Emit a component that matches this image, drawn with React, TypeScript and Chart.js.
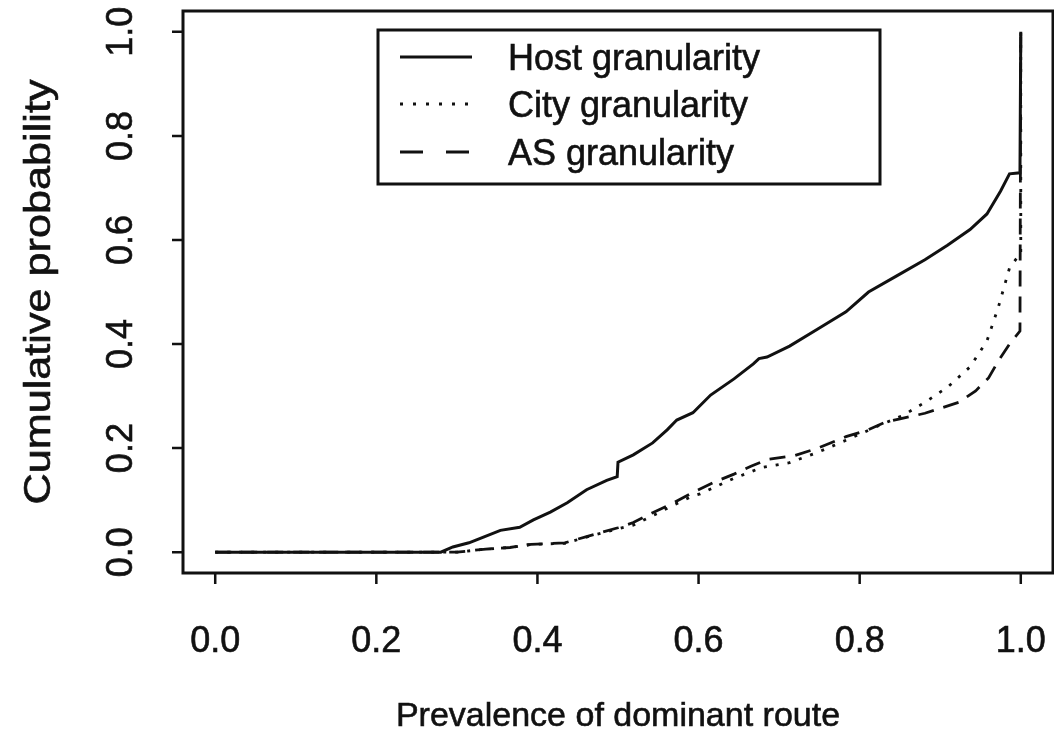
import React, { useEffect, useRef } from "react";
import { Chart, registerables } from "chart.js";

Chart.register(...registerables);

// ---- data ----
const xTicks = [0, 0.2, 0.4, 0.6, 0.8, 1.0];
const yTicks = [0, 0.2, 0.4, 0.6, 0.8, 1.0];
const xTickLabels = ["0.0", "0.2", "0.4", "0.6", "0.8", "1.0"];
const yTickLabels = ["0.0", "0.2", "0.4", "0.6", "0.8", "1.0"];
const xTitle = "Prevalence of dominant route";
const yTitle = "Cumulative probability";
const seriesNames = ["Host granularity", "City granularity", "AS granularity"];

const hostX = [0, 0.28, 0.295, 0.315, 0.333, 0.354, 0.378, 0.395, 0.416, 0.437, 0.461, 0.486, 0.499, 0.5, 0.519, 0.543, 0.561, 0.573, 0.593, 0.615, 0.644, 0.668, 0.675, 0.685, 0.713, 0.748, 0.783, 0.811, 0.846, 0.881, 0.909, 0.937, 0.958, 0.975, 0.986, 0.999, 1.0];
const hostY = [0, 0, 0.01, 0.018, 0.029, 0.042, 0.048, 0.062, 0.077, 0.095, 0.12, 0.138, 0.145, 0.173, 0.187, 0.21, 0.235, 0.254, 0.268, 0.302, 0.333, 0.362, 0.372, 0.375, 0.396, 0.429, 0.462, 0.5, 0.531, 0.562, 0.59, 0.62, 0.65, 0.694, 0.727, 0.729, 1.0];

const cityX = [0, 0.3, 0.336, 0.366, 0.392, 0.434, 0.461, 0.5, 0.519, 0.543, 0.568, 0.593, 0.602, 0.644, 0.679, 0.713, 0.748, 0.783, 0.825, 0.854, 0.881, 0.909, 0.937, 0.958, 0.972, 0.986, 0.995, 1.0, 1.0];
const cityY = [0, 0, 0.006, 0.009, 0.015, 0.017, 0.029, 0.045, 0.052, 0.07, 0.09, 0.108, 0.112, 0.142, 0.163, 0.172, 0.192, 0.215, 0.244, 0.263, 0.288, 0.317, 0.356, 0.406, 0.47, 0.546, 0.565, 0.57, 1.0];

const asX = [0, 0.3, 0.336, 0.366, 0.392, 0.434, 0.461, 0.5, 0.519, 0.543, 0.568, 0.593, 0.62, 0.644, 0.665, 0.685, 0.72, 0.748, 0.783, 0.809, 0.832, 0.85, 0.881, 0.903, 0.923, 0.944, 0.96, 0.972, 0.986, 0.999, 1.0];
const asY = [0, 0, 0.006, 0.009, 0.015, 0.018, 0.03, 0.047, 0.057, 0.076, 0.094, 0.115, 0.135, 0.15, 0.165, 0.178, 0.186, 0.2, 0.222, 0.234, 0.25, 0.256, 0.267, 0.278, 0.288, 0.31, 0.335, 0.367, 0.4, 0.425, 1.0];

const toPts = (xs: number[], ys: number[]) => xs.map((x, i) => ({ x, y: ys[i] }));

const INK = "#111";
const FAMILY = "'Liberation Sans', Arial, Helvetica, sans-serif";
const dashes = [[], [3, 9], [16, 10]];
const legendDashes = [[], [3, 10], [23, 23]];

function inkText(ctx: CanvasRenderingContext2D, s: string, x: number, y: number) {
  ctx.fillText(s, x, y);
  ctx.save();
  ctx.lineWidth = 0.6;
  ctx.setLineDash([]);
  ctx.strokeText(s, x, y);
  ctx.restore();
}

const framePlugin = {
  id: "rframe",
  afterDraw(chart: any) {
    const { ctx, chartArea, scales } = chart;
    const { left, right, top, bottom } = chartArea;
    const xs = scales.x;
    const ys = scales.y;
    ctx.save();
    ctx.strokeStyle = INK;
    ctx.fillStyle = INK;
    ctx.lineWidth = 3;
    ctx.setLineDash([]);
    ctx.strokeRect(left, top, right - left, bottom - top);

    // ticks
    ctx.lineWidth = 2.5;
    ctx.beginPath();
    xTicks.forEach((v) => {
      const px = xs.getPixelForValue(v);
      ctx.moveTo(px, bottom);
      ctx.lineTo(px, bottom + 11);
    });
    yTicks.forEach((v) => {
      const py = ys.getPixelForValue(v);
      ctx.moveTo(left, py);
      ctx.lineTo(left - 11, py);
    });
    ctx.stroke();

    ctx.font = "36px " + FAMILY;
    ctx.textAlign = "center";
    ctx.textBaseline = "alphabetic";
    xTicks.forEach((v, i) => {
      inkText(ctx, xTickLabels[i], xs.getPixelForValue(v), 652);
    });
    yTicks.forEach((v, i) => {
      ctx.save();
      ctx.translate(132, ys.getPixelForValue(v));
      ctx.rotate(-Math.PI / 2);
      inkText(ctx, yTickLabels[i], 0, 0);
      ctx.restore();
    });

    // axis titles
    ctx.font = "34px " + FAMILY;
    inkText(ctx, xTitle, (left + right) / 2, 726);
    ctx.save();
    ctx.font = "36px " + FAMILY;
    ctx.translate(50, (top + bottom) / 2);
    ctx.rotate(-Math.PI / 2);
    ctx.scale(1.2, 1);
    inkText(ctx, yTitle, 0, 0);
    ctx.restore();

    // legend
    ctx.font = "36px " + FAMILY;
    const lx = 378, ly = 30, lw = 502, lh = 154;
    ctx.fillStyle = "#fff";
    ctx.fillRect(lx, ly, lw, lh);
    ctx.lineWidth = 3;
    ctx.strokeRect(lx, ly, lw, lh);
    ctx.fillStyle = INK;
    ctx.textAlign = "left";
    const rows = [57, 104, 152];
    seriesNames.forEach((name, i) => {
      ctx.save();
      ctx.lineWidth = 3;
      ctx.setLineDash(legendDashes[i]);
      ctx.beginPath();
      ctx.moveTo(400, rows[i]);
      ctx.lineTo(472, rows[i]);
      ctx.stroke();
      ctx.restore();
      inkText(ctx, name, 508, rows[i] + 13);
    });
    ctx.restore();
  },
};

export default function App() {
  const ref = useRef<HTMLCanvasElement | null>(null);
  useEffect(() => {
    if (!ref.current) return;
    const chart = new Chart(ref.current, {
      type: "line",
      data: {
        datasets: [
          { label: seriesNames[0], data: toPts(hostX, hostY) },
          { label: seriesNames[1], data: toPts(cityX, cityY) },
          { label: seriesNames[2], data: toPts(asX, asY) },
        ].map((d, i) => ({
          ...d,
          borderColor: INK,
          borderWidth: i === 0 ? 3 : 2.8,
          borderDash: dashes[i],
          pointRadius: 0,
          tension: 0,
          fill: false,
        })),
      },
      options: {
        animation: false,
        responsive: false,
        layout: { padding: { left: 183, right: 1, top: 11, bottom: 169 } },
        scales: {
          x: { type: "linear", min: -0.04, max: 1.04, display: false },
          y: { type: "linear", min: -0.04, max: 1.04, display: false },
        },
        plugins: { legend: { display: false }, tooltip: { enabled: false } },
      },
      plugins: [framePlugin],
    });
    return () => chart.destroy();
  }, []);
  return (
    <div style={{ position: "fixed", left: 0, top: 0, width: 1054, height: 742, background: "#fff" }}>
      <canvas ref={ref} width={1054} height={742} />
    </div>
  );
}
